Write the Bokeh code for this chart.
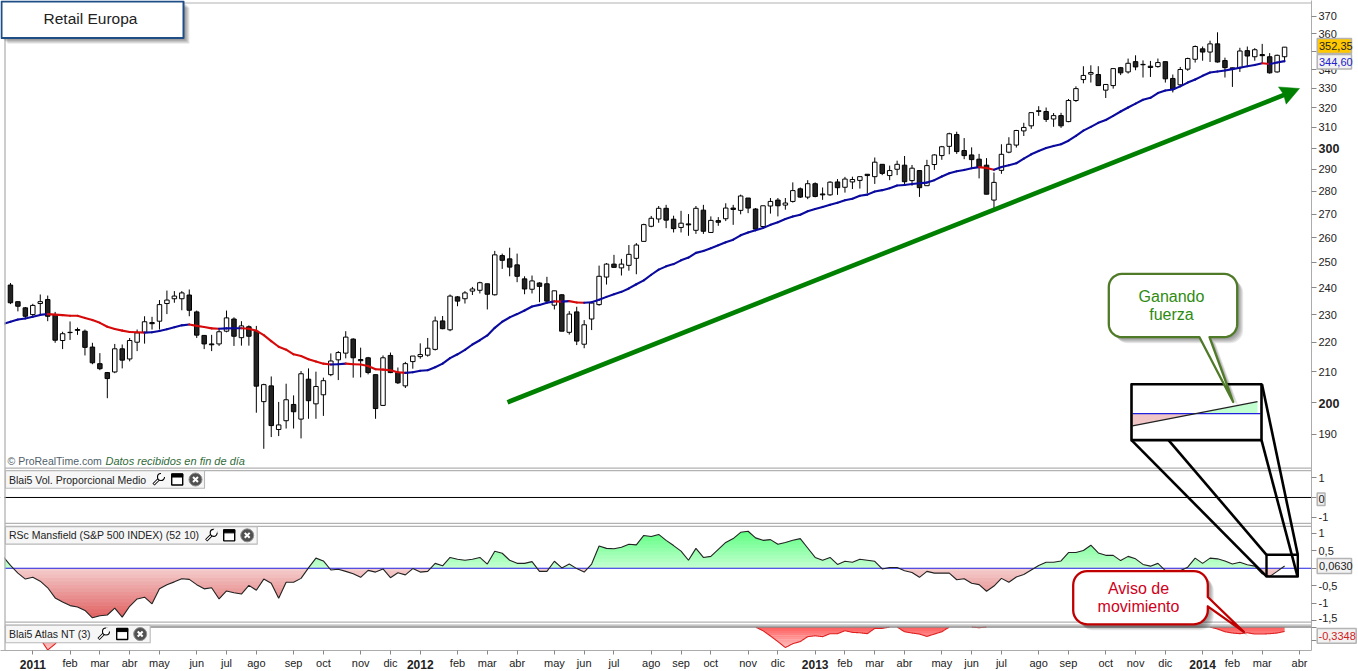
import math
import numpy as np
from bokeh.plotting import figure
from bokeh.models import Range1d, FixedTicker, LinearScale
from bokeh.core.properties import value
from bokeh.embed import file_html
from bokeh.resources import INLINE

FONT = "Liberation Sans"

# ---------- weekly candles (first = week 0) ----------
opens = [241.1,234.8,232.5,230,234.1,235.6,230,220.7,223.5,224.6,224,218.4,212.7,209.7,209.9,217.8,214.3,220.1,223.6,227.1,
 227.6,234.1,235.9,235.9,237.3,231,222.5,219.5,219.5,224,228.4,221.7,225.6,224,200.2,205.3,191.5,194.2,199.3,194.7,
 207.5,199.5,202.4,209,214,216.3,221.2,214.1,214.7,209,199,215.5,209.7,205.3,213.4,215.1,215.6,217.6,227.7,224.5,
 236.6,235.9,238.8,239.1,241.6,237.4,252.7,251.4,249,243.5,239.5,241.9,241.6,233.5,237.4,223.6,231,219.4,228.4,233.7,
 244.2,249.3,247.8,248.8,251.6,258.5,264.8,267.9,272.5,267.8,264.3,265.8,263.1,271.7,262.2,267.2,268,272.6,271.6,277,
 272.2,264.7,273.5,276.1,273.9,275.5,281.1,277.4,283.4,278.8,278.4,284.2,281.8,284.2,284.9,287.7,286.6,292.3,287.1,290,
 291.9,284.8,289.4,282.5,292.2,296.4,300.8,306.5,298.8,296.7,294.7,291.9,276.1,289.5,298,301.4,308.3,310.8,318,318,
 314.2,315.9,312.9,323.6,334.6,337.5,337.3,329,331.4,341,338.7,344.3,342.8,341.8,341.6,344.3,335.2,331.8,340.2,345.6,
 351.4,349.6,354.2,344.9,340.9,341,350.4,347,348.2,347,338.7,347]
highs = [241.9,234.8,232.8,234,237.5,237.1,231,223.8,227.5,225.3,224.6,219.9,216.3,209.9,219.5,219.3,221.6,224.6,229.4,229.2,
 235.4,239,238.8,238.8,239.4,231.5,222.5,222.7,224.6,231.5,229,227.6,226.1,225.9,206,208.4,200.1,206,202.2,210.2,
 211.1,210,208,216.2,217,224,221.5,218.2,215,209,215.5,216.5,211.4,213.3,215.3,219.7,221.6,229.3,229.5,237.5,
 236.9,238.8,240.4,242.4,241.6,254.6,253.5,255.9,253.5,244.5,244.8,242.2,244.3,238.9,237.6,231.3,232.9,228,234.3,248.7,
 249.7,253,251.4,257,257.8,265.9,269.2,273.5,274,269.3,271.4,270,273.5,274,269,268.7,274.7,274,278.5,277,
 272.6,273.6,277,277,277,284,281.7,285,284,281.7,284.5,285.5,286.5,286.6,286.6,287.7,295.5,292.3,291.7,294,
 296.2,292,289.4,294.4,297,301,307.4,307.9,304.8,300.3,297.2,295.2,288.5,301.8,305.2,308.8,312.3,317.4,320.7,320,
 317.2,317.3,324.4,331,341.8,342.3,341.8,332,340.5,341.4,346,347.8,345,344.7,346,344.3,337.3,341.4,346.5,353.3,
 352.7,356,360.8,346.5,341,352,352.7,351.8,354.2,349,348.2,352.4]
lows = [233.9,231.2,228.8,229.4,230,227.6,219.9,217.7,220.9,222.7,215.5,212.5,210.5,201.3,209.5,211.1,213.5,217,219.6,224.6,
 224.6,230.2,234.4,231.6,229.4,221.6,217.7,217,218.8,223.6,218.8,218.9,218.9,196.7,185.7,189.2,189.5,191.8,191.8,188.8,
 194.8,194.8,195.7,208.5,207.2,214.5,208,208.1,209.1,194.8,198.9,209.5,205.9,204.6,211,214.4,215.1,217.2,224.7,224,
 233.1,234.1,237.3,237.9,231.9,237.1,247.4,244.5,242.2,237.6,237.9,234.6,234.6,231.9,224,222.8,219.1,218,224.4,233.3,
 241.3,248,244.8,246.7,245.3,258.5,264.4,266.3,264,262.2,262.2,260.8,261.6,261.6,262,265,267,265.4,269.9,270.4,
 263.2,264.4,270.2,269,271.9,275,277,276.5,277.3,276.2,278,278.4,279.4,281,281.2,279.1,283.3,287.3,285,287.3,
 282.8,282.5,277.5,282.5,289.7,294.4,297,297.2,294.7,290.8,285.8,278.7,272.6,287.9,297.5,300.2,305.8,309.3,315.8,312.7,
 310.3,309.8,312.6,322.9,332.6,333,331.4,324.9,329.8,337,337.8,339.6,335.7,336,341,333,327.8,331.3,339.3,343.8,
 344.8,344.1,343.8,335.7,330.7,338.7,342.4,344.8,343.7,337.8,338.3,344]
closes = [234.4,233.1,229.4,233.4,234.8,229.4,220.8,223.1,223.6,224.3,218.3,213,211,207.7,217.8,213.9,220.7,223.4,227.4,226.7,
 233.7,235.4,236.9,238.1,231.6,222.6,219.5,219.2,223.8,228.8,222.2,225.9,222.2,205.2,205.7,192.7,192.9,200.8,197,209.3,
 200.5,205.1,207,213.6,216.5,221.9,214.7,213.7,209.7,198,214.7,209.7,206.3,212.7,215.3,215.8,218,227.7,224.9,236.9,
 235,238.1,239.6,242,237.6,253,250.8,248.1,244.5,239.6,242.7,240.6,235,238.9,224,230.2,220.5,226.3,234.3,244.5,
 249.3,248,249.3,253.2,257,265.5,268.2,272.5,267.4,263.8,266.1,265.4,272.5,262.7,267.3,266.5,272.6,272,277.9,272.6,
 263.6,273.6,275.5,273.6,274.8,280.3,277.4,283.4,277.7,278.4,284.1,281.6,285.5,285.3,286.6,287.1,293.3,288.1,289.4,292.3,
 284.3,290.5,281.6,291.7,296.7,300.6,306.9,298.3,296.4,294.5,291.1,278.7,284,297,301.8,308.5,310,317.4,318.4,314,
 315.9,310.8,323.6,329.8,336.8,338.4,331.4,332,340.5,338.2,343.4,341.4,342.6,341.1,343.8,335,329.5,340,346,352.7,
 349.6,354.2,344.1,341,340.5,350.2,347.4,350.9,347.6,338.2,347.8,352.35]

# ---------- moving average, RSc Mansfield, Atlas NT: first value = week -1 ----------
ma_values = [226.6,227.4,228.2,228.6,229.2,229.9,230.2,230,229.8,229.6,229.6,228.8,228,227,225.6,224.8,224.2,223.7,223.6,223.5,223.6,
 224.1,224.7,225.4,226.1,226.4,225.9,225.5,225,224.9,225,225.05,225.05,224.9,224.2,222.6,220.5,218.5,217.5,215.9,215.3,
 214.2,213.4,212.7,212.4,212.5,212.7,212.5,212.4,211.9,210.8,210.7,210.5,209.8,209.6,209.8,210.3,210.5,211.5,212.7,214.6,
 215.9,217.4,219.3,220.8,222.5,225.2,227.4,229,230.2,231.5,233,233.6,234.4,234.9,234.8,235,234.5,234.4,234.6,235.5,
 236.6,237.6,238.5,239.8,241.4,242.9,245.1,247.1,248.4,249.3,250.8,251.9,253.8,254.6,255.7,256.9,258.1,259.2,261,262.2,
 263.1,264.1,265.4,266.5,267.9,269,269.7,271.2,272.2,273.1,274,274.9,276,276.7,278,278.5,279.9,280.5,281.4,282.6,
 282.8,283.3,283.6,283.9,285,286.7,288.2,289.1,289.7,290.5,291,290.6,289.8,291,291.9,292.8,295,297,298.6,300,
 301,301.8,303.5,305.9,308.4,310.3,312.3,313.7,315.8,318,320,322,324,325,327.5,328.8,329.3,331,333,334.6,
 336.6,338.4,338.9,339.5,340.2,341,341.8,342.5,343.4,343,343.8,344.6]
rsc_values = [0.34,0.08,-0.14,-0.31,-0.26,-0.37,-0.56,-0.85,-0.97,-1.07,-1.11,-1.21,-1.42,-1.36,-1.34,-1.14,-1.40,-1.09,-0.88,-0.83,-1.02,
 -0.59,-0.47,-0.39,-0.30,-0.32,-0.47,-0.59,-0.56,-0.88,-0.65,-0.70,-0.74,-0.49,-0.63,-0.31,-0.43,-0.86,-0.40,-0.40,-0.29,
 0.01,0.29,0.21,-0.05,-0.03,-0.09,-0.16,-0.26,-0.06,-0.11,-0.02,-0.27,-0.13,-0.19,-0.01,-0.11,-0.09,0.14,0.07,0.31,
 0.26,0.23,0.26,0.31,0.12,0.49,0.43,0.23,0.14,0.14,0.19,-0.09,-0.09,0.20,0.01,0.12,-0.01,-0.11,0.12,0.64,
 0.57,0.56,0.60,0.69,0.67,0.94,0.91,0.97,0.80,0.65,0.49,0.23,0.57,0.31,0.34,0.54,0.74,0.85,1.03,1.06,
 0.87,0.80,0.82,0.69,0.74,0.80,0.85,0.58,0.31,0.23,0.31,0.11,0.20,0.17,0.26,0.23,0.20,-0.02,0.02,0.02,
 -0.07,-0.12,-0.26,-0.09,-0.14,-0.14,-0.14,-0.33,-0.30,-0.43,-0.47,-0.66,-0.51,-0.29,-0.40,-0.25,-0.18,-0.05,0.08,0.17,
 0.17,0.21,0.45,0.45,0.51,0.66,0.44,0.37,0.37,0.22,0.34,0.27,0.11,0.06,0.14,-0.07,-0.09,-0.07,0.03,0.29,
 0.14,0.29,0.27,0.21,0.12,0.17,0.10,0.06,-0.16,-0.24,-0.09,0.063]
atlas_weeks = [-1,3,4,5,6,7,8,
 100,101,102,103,104,105,106,107,108,109,110,111,112,113,114,115,116,117,118,119,120,121,122,123,124,125,126,129,130,131,
 161,162,163,164,165,166,167,168,169,170,171]
atlas_values = [0,0,-0.9,-1.77,-1.3,-0.6,0,
 0,-0.28,-0.69,-1.12,-1.58,-1.28,-1.12,-0.74,-0.67,-0.74,-0.51,-0.51,-0.28,-0.41,-0.44,-0.51,-0.1,-0.1,0,0,-0.36,-0.46,-0.54,-0.72,-0.54,-0.36,0,0,-0.05,0,
 0,-0.15,-0.36,-0.46,-0.51,-0.44,-0.54,-0.54,-0.51,-0.46,-0.3348]
vol_values = [0.0, 0.0]

# ---------- axis content ----------
month_ticks = [8,12,16,20,25,29,33,38,42,47,51,60,64,68,73,77,81,86,90,94,99,103,112,116,120,125,129,133,138,142,147,151,155,164,168,173]
month_names = ["feb","mar","abr","may","jun","jul","ago","sep","oct","nov","dic","feb","mar","abr","may","jun","jul","ago","sep","oct","nov","dic",
               "feb","mar","abr","may","jun","jul","ago","sep","oct","nov","dic","feb","mar","abr"]
year_ticks = [3,55,108,160]
year_names = ["2011","2012","2013","2014"]
price_ticks = [190,210,220,230,240,250,260,270,280,290,310,320,330,340,350,360,370]
price_bold = [200,300]
vol_ticks = [1,0,-1]
rsc_ticks = [1,0.5,0,-0.5,-1,-1.5]
rsc_names = ["1","0,5","","-0,5","-1",""]
atlas_ticks = [0,-1]

# ---------- layout (pixels of the page) ----------
W, H = 1358, 671
FRAME_R, FRAME_B = 1311, 652
X0, DX = 9.95, 7.451
PX_U = 629.0          # price scale, px per ln unit (log axis)
VOL0, VOLK = 498.5, 20.0
RSC0, RSCK = 569.5, 35.0
ATL0, ATLK = 628.5, 13.0

def X(px): return (px - X0) / DX
def Y(py): return 200 * math.exp((403 - py) / PX_U)
def P_X(i): return X0 + DX * i
def P_Y(v): return 403 - PX_U * math.log(v / 200)

ABS = {"position": "absolute", "left": "0px", "top": "0px"}
p = figure(width=W, height=H, output_backend="svg", toolbar_location=None,
           x_range=Range1d(X(0), X(FRAME_R)), y_range=Range1d(Y(FRAME_B), Y(0)),
           y_axis_type="log", y_axis_location="right",
           min_border_left=0, min_border_top=0, min_border_right=W-FRAME_R, min_border_bottom=H-FRAME_B,
           background_fill_color="white", border_fill_color="white", outline_line_color=None,
           styles=ABS)
p.grid.visible = False
p.extra_y_ranges = {
    "vol": Range1d((VOL0-FRAME_B)/VOLK, VOL0/VOLK),
    "rsc": Range1d((RSC0-FRAME_B)/RSCK, RSC0/RSCK),
    "atlas": Range1d((ATL0-FRAME_B)/ATLK, ATL0/ATLK),
}
p.extra_y_scales = {"vol": LinearScale(), "rsc": LinearScale(), "atlas": LinearScale()}

# axes
def vol_px(v): return VOL0 - VOLK*v
def rsc_px(v): return RSC0 - RSCK*v
def atl_px(v): return ATL0 - ATLK*v
overrides = {float(t): str(t) for t in price_ticks}
for t in price_bold: overrides[float(t)] = ""
for t in vol_ticks: overrides[Y(vol_px(t))] = str(t) if t != 0 else ""
for t, n in zip(rsc_ticks, rsc_names): overrides[Y(rsc_px(t))] = n
for t in atlas_ticks: overrides[Y(atl_px(t))] = ""
ya = p.yaxis[0]
ya.ticker = FixedTicker(ticks=sorted(overrides.keys()), minor_ticks=[])
ya.major_label_overrides = overrides
ya.major_tick_in = 0; ya.major_tick_out = 5
ya.minor_tick_line_color = None
ya.axis_line_color = "#ACACAC"; ya.major_tick_line_color = "#888888"
ya.major_label_text_font = FONT; ya.major_label_text_font_size = "11px"; ya.major_label_text_color = "#222222"
ya.major_label_standoff = 2

xa = p.xaxis[0]
xo = {t: n for t, n in zip(month_ticks, month_names)}
for t in year_ticks: xo[t] = ""
xa.ticker = FixedTicker(ticks=sorted(xo.keys()), minor_ticks=[])
xa.major_label_overrides = xo
xa.major_tick_in = 0; xa.major_tick_out = 4
xa.minor_tick_line_color = None
xa.axis_line_color = "#ACACAC"; xa.major_tick_line_color = "#888888"
xa.major_label_text_font = FONT; xa.major_label_text_font_size = "11px"; xa.major_label_text_color = "#222222"
xa.major_label_standoff = 2

# ---------- candles ----------
wk = np.arange(len(closes))
o, h, l, c = map(np.array, (opens, highs, lows, closes))
p.segment(wk, l, wk, h, line_color="black", line_width=1)
p.vbar(x=wk, bottom=np.minimum(o, c), top=np.maximum(o, c), width=0.6,
       fill_color=["#222222" if a > b else "white" for a, b in zip(o, c)], line_color="black", line_width=1)

# moving average coloured by slope
mx = np.arange(-1, len(ma_values)-1)
ma = np.array(ma_values)
ma_cols, last = [], "#0A0A9E"
for a, b in zip(ma[:-1], ma[1:]):
    if b > a: last = "#0A0A9E"
    elif b < a: last = "#D60A0A"
    ma_cols.append(last)
p.segment(mx[:-1], ma[:-1], mx[1:], ma[1:], line_color=ma_cols, line_width=2.1, line_cap="round")

# ---------- volume panel ----------
p.segment([X(0)], vol_values[:1], [X(FRAME_R)], vol_values[1:], y_range_name="vol", line_color="black", line_width=1)

# ---------- gradient helper ----------
def mix(c1, c2, t):
    return "#%02x%02x%02x" % tuple(int(round(a + (b-a)*t)) for a, b in zip(c1, c2))

rx = np.arange(-1, len(rsc_values)-1)
dense = np.linspace(rx[0], rx[-1], 3000)
rv = np.interp(dense, rx, rsc_values)
edges = np.linspace(0, -1.5, 16)
for i in range(len(edges)-1):
    hi, lo = edges[i], edges[i+1]
    p.varea(dense, y1=np.clip(rv, lo, hi), y2=np.where(rv < hi, min(hi+0.02, 0), np.clip(rv, lo, hi)), y_range_name="rsc",
            fill_color=mix((244, 208, 208), (224, 92, 92), (i+0.5)/15))
edges = np.linspace(0, 1.1, 12)
for i in range(len(edges)-1):
    lo, hi = edges[i], edges[i+1]
    p.varea(dense, y1=np.clip(rv, lo, hi), y2=np.where(rv > lo, max(lo-0.02, 0), np.clip(rv, lo, hi)), y_range_name="rsc",
            fill_color=mix((200, 255, 212), (92, 255, 128), (i+0.5)/11))
p.segment([X(4)], [0], [X(FRAME_R)], [0], y_range_name="rsc", line_color="#2020E0", line_width=1)
p.line(rx, rsc_values, y_range_name="rsc", line_color="#222222", line_width=1.1)

# ---------- atlas panel ----------
av = np.interp(dense, atlas_weeks, atlas_values)
edges = np.linspace(0, -1.8, 12)
for i in range(len(edges)-1):
    hi, lo = edges[i], edges[i+1]
    p.varea(dense, y1=np.clip(av, lo, hi), y2=np.where(av < hi, min(hi+0.03, 0), np.clip(av, lo, hi)), y_range_name="atlas",
            fill_color=mix((255, 92, 92), (255, 205, 205), (i+0.5)/11))
p.line(dense, np.where(av < 0, av, np.nan), y_range_name="atlas", line_color="#E02020", line_width=1.1)
p.segment([X(4)], [0], [X(FRAME_R)], [0], y_range_name="atlas", line_color="#8A8A8A", line_width=1.4)

# ---------- page furniture (pixel helpers) ----------
def seg(x0, y0, x1, y1, color, width=1.0, cap="butt"):
    p.segment([X(x0)], [Y(y0)], [X(x1)], [Y(y1)], line_color=color, line_width=width, line_cap=cap)
def poly(pts, fill=None, line=None, width=1.0, alpha=1.0):
    p.patch([X(a) for a, b in pts], [Y(b) for a, b in pts], fill_color=fill if fill else "white",
            fill_alpha=alpha if fill else 0, line_color=line, line_width=width, line_join="round")
def txt(x, y, s, color="#222222", size="11px", align="center", style="normal"):
    p.text([X(x)], [Y(y)], text=[s], text_color=color, text_font=value(FONT), text_font_size=size,
           text_align=align, text_baseline="middle", text_font_style=style)

# white strip + borders
p.quad(left=[X(-1)], right=[X(4)], bottom=[Y(FRAME_B)], top=[Y(-1)], fill_color="white", line_color=None)
GR = "#B2B2B2"
seg(4.5, 2, 4.5, 652, GR, 1.3)
seg(4.5, 2.5, 1311, 2.5, GR, 1.2)
for yy in (469, 471.5, 524.5, 527.5, 623.5, 626.5):
    seg(4.5, yy, 1311, yy, GR, 1.2)

# attribution
txt(7, 462, "© ProRealTime.com", "#50606A", "10.5px", "left")
txt(105, 462, "Datos recibidos en fin de día", "#2F6B3A", "11px", "left", "italic")

# green arrow
seg(507, 403, 1288, 93, "#008000", 4.6)
poly([(1299, 88.3), (1278, 86.7), (1283, 94), (1285.7, 104)], fill="#008000", line="#008000", width=0.5)

# zoom detail
poly([(1132, 414.3), (1197, 414.3), (1132, 426.7)], fill="#F0C6C6")
poly([(1197, 414.3), (1257, 402.3), (1257, 414.3)], fill="#C2FFD0")
seg(1132, 414.3, 1260, 414.3, "#2020E0", 1.2)
seg(1132, 426.7, 1257, 402.3, "#222222", 1.2)
poly([(1131, 385), (1261, 385), (1261, 441), (1131, 441)], line="black", width=2.6)
poly([(1266, 556), (1297.3, 556), (1297.3, 577.7), (1266, 577.7)], line="black", width=2.4)
seg(1131, 441, 1266, 577.7, "black", 2.6)
seg(1168, 441, 1266, 556, "black", 2.6)
seg(1261, 441, 1297, 577.7, "black", 2.6)
seg(1261.5, 385, 1297.3, 556, "black", 2.6)

# callouts
def rounded(l, t, r, b, rad, tail_bottom=None, tail_right=None):
    def arc(cx, cy, a0, a1):
        return [(cx + rad*math.cos(math.radians(a)), cy + rad*math.sin(math.radians(a)))
                for a in np.linspace(a0, a1, 9)]
    pts = arc(l+rad, t+rad, 180, 270) + arc(r-rad, t+rad, 270, 360)
    if tail_right: pts += tail_right
    pts += arc(r-rad, b-rad, 0, 90)
    if tail_bottom: pts += tail_bottom
    pts += arc(l+rad, b-rad, 90, 180)
    return pts
def shadowed(pts, fill, line, width):
    for k in (6, 5, 4, 3, 2):
        poly([(a+k, b+k) for a, b in pts], fill="#000000", alpha=0.085)
    poly(pts, fill=fill, line=line, width=width)

shadowed(rounded(1108.3, 274.3, 1236.7, 337.7, 13,
                 tail_bottom=[(1209, 337.7), (1232.7, 402.7), (1199, 337.7)]), "white", "#4F7A28", 2.3)
txt(1171, 296.5, "Ganando", "#2E8B12", "16px")
txt(1171, 315, "fuerza", "#2E8B12", "16px")
shadowed(rounded(1072.7, 572.3, 1207.3, 625.7, 14,
                 tail_right=[(1207.3, 598.3), (1243.3, 633.3), (1207.3, 607.7)]), "white", "#C00000", 2.3)
txt(1138, 590, "Aviso de", "#D00020", "16px")
txt(1138, 607.5, "movimiento", "#D00020", "16px")

# title
for k in (6, 5, 4, 3, 2):
    poly([(1+k, 1+k), (183+k, 1+k), (183+k, 37.5+k), (1+k, 37.5+k)], fill="#000000", alpha=0.09)
poly([(1, 1), (183, 1), (183, 37.5), (1, 37.5)], fill="white", line="#1F4E86", width=2)
txt(90, 18.5, "Retail Europa", "#222222", "15.5px")

# indicator headers with icons
def header(l, r, t, b, text, ix):
    poly([(l, t), (r, t), (r, b), (l, b)], fill="#F6F6F6", line="#B8B8B8", width=1.1)
    ym = (t+b)/2
    txt(l+3.5, ym, text, "#222222", "10.5px", "left")
    # wrench: handle and open jaw
    seg(ix[0]-5, ym+5, ix[0]+2, ym-2, "black", 3)
    seg(ix[0]-4.6, ym+4.6, ix[0]+2, ym-2, "white", 1.3)
    p.scatter([X(ix[0]+2.5)], [Y(ym-2.5)], size=7, marker="circle", fill_color="white", line_color="black", line_width=1.1)
    p.rect([X(ix[0]+4.5)], [Y(ym-4.5)], width=4, height=4, width_units="screen", height_units="screen", fill_color="#F6F6F6", line_color=None)
    # window
    p.rect([X(ix[1])], [Y(ym)], width=11, height=11, width_units="screen", height_units="screen", fill_color="white", line_color="black", line_width=1.4)
    p.rect([X(ix[1])], [Y(ym-4)], width=11, height=3, width_units="screen", height_units="screen", fill_color="black", line_color="black")
    # close
    p.scatter([X(ix[2])], [Y(ym)], size=13, marker="circle", fill_color="#505050", line_color="#909090", line_width=1)
    p.scatter([X(ix[2])], [Y(ym)], size=7, marker="x", line_color="white", line_width=2)

header(5, 204, 471.7, 489.3, "Blai5 Vol. Proporcional Medio", (158, 176.7, 195))
header(5, 256.7, 527.7, 545.3, "RSc Mansfield (S&P 500 INDEX) (52 10)", (210.7, 228.7, 246.7))
header(5, 149.7, 626.7, 644.3, "Blai5 Atlas NT (3)", (103, 121.7, 139.7))

# ---------- transparent sheet over the page for the labels beside the axes ----------
q = figure(width=W, height=H, output_backend="svg", toolbar_location=None,
           x_range=Range1d(0, W), y_range=Range1d(H, 0), x_axis_type=None, y_axis_type=None,
           min_border=0, outline_line_color=None, background_fill_alpha=0, border_fill_alpha=0, styles=ABS)
q.grid.visible = False

def label(x, y, s, color="#222222", size="11px", style="normal", align="left"):
    q.text([x], [y], text=[s], text_color=color, text_font=value(FONT), text_font_size=size,
           text_font_style=style, text_align=align, text_baseline="middle")
def vbox(l, r, t, b, fill, edge="#B4B4B4"):
    q.quad(left=[l], right=[r], top=[t], bottom=[b], fill_color=fill, line_color=edge, line_width=1.5)

for t, n in zip(year_ticks, year_names):
    label(P_X(t), 663.5, n, size="12px", style="bold", align="center")
for t in price_bold:
    label(1318, P_Y(t), str(t), size="12.5px", style="bold")
label(1318, 617.3, "-1,5")
vbox(1316.7, 1351, 38, 53, "#FFC800")
label(1318.5, 45.7, "352,35")
vbox(1316.7, 1351, 54, 68.5, "#F2F2F2")
label(1318.5, 61.2, "344,60", color="#2222CC")
vbox(1316.7, 1324.5, 492.5, 505, "#EEEEEE")
label(1318, vol_px(0), "0")
vbox(1316.7, 1351, 558, 573, "#F2F2F2")
label(1318.5, 565.5, "0,0630")
vbox(1316.7, 1355.7, 628, 642.7, "#F2F2F2")
label(1318, 635.3, "-0,3348", color="#D02020")

open("out.html", "w").write(file_html([p, q], INLINE))
